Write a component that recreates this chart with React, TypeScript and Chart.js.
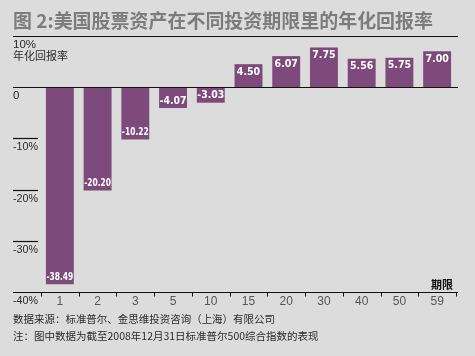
import React, { useEffect, useRef } from "react";
import { Chart, registerables } from "chart.js";

Chart.register(...registerables);

const TITLE = "图 2:美国股票资产在不同投资期限里的年化回报率";
const Y_LABEL = "年化回报率";
const X_LABEL = "期限";
const SOURCE = "数据来源：标准普尔、金思维投资咨询（上海）有限公司";
const NOTE = "注：图中数据为截至2008年12月31日标准普尔500综合指数的表现";

const categories = ["1", "2", "3", "5", "10", "15", "20", "30", "40", "50", "59"];
const returns = [-38.49, -20.2, -10.22, -4.07, -3.03, 4.5, 6.07, 7.75, 5.56, 5.75, 7.0];
const yTicks = [10, 0, -10, -20, -30, -40];
const yTickLabels = ["10%", "0", "-10%", "-20%", "-30%", "-40%"];

const BG = "#dcdcdc";
const BAR = "#7d4a7b";
const INK = "#2a2a2a";
const CJK = '"Noto Sans CJK SC", "Noto Sans", sans-serif';

const decorPlugin = {
  id: "decor",
  beforeDraw(chart: any) {
    const ctx = chart.ctx;
    ctx.save();
    ctx.fillStyle = BG;
    ctx.fillRect(0, 0, chart.width, chart.height);
    ctx.restore();
  },
  afterDatasetsDraw(chart: any) {
    const ctx = chart.ctx;
    const y = chart.scales.y;
    const x = chart.scales.x;
    const area = chart.chartArea;
    const left = 13;
    const right = 458;
    ctx.save();

    // title
    ctx.fillStyle = "#7c7c7c";
    ctx.font = `bold 19px ${CJK}`;
    ctx.textBaseline = "middle";
    ctx.textAlign = "left";
    ctx.fillText(TITLE, 13, 21, 420);

    // horizontal lines
    ctx.strokeStyle = "#111";
    ctx.lineWidth = 1.2;
    yTicks.forEach((v) => {
      const py = Math.round(y.getPixelForValue(v)) + 0.5;
      const full = v === 10 || v === 0 || v === -40;
      ctx.beginPath();
      ctx.moveTo(left, py);
      ctx.lineTo(full ? right : 38, py);
      ctx.stroke();
    });

    // y tick labels (below lines)
    ctx.fillStyle = INK;
    ctx.font = '11.5px "Liberation Sans", "DejaVu Sans", sans-serif';
    ctx.textBaseline = "top";
    ctx.textAlign = "left";
    yTicks.forEach((v, i) => {
      const py = y.getPixelForValue(v);
      ctx.fillText(yTickLabels[i], 13, py + 3, 25);
    });
    ctx.font = `11px ${CJK}`;
    ctx.fillText(Y_LABEL, 13, y.getPixelForValue(10) + 14);

    // x ticks
    const axisY = Math.round(y.getPixelForValue(-40)) + 0.5;
    ctx.strokeStyle = "#111";
    ctx.lineWidth = 1;
    const n = categories.length;
    const step = (area.right - area.left) / n;
    for (let i = 0; i <= n; i++) {
      const px = Math.round(area.left + i * step) + 0.5;
      ctx.beginPath();
      ctx.moveTo(px, axisY);
      ctx.lineTo(px, axisY + 4);
      ctx.stroke();
    }
    ctx.fillStyle = "#555";
    ctx.font = '12px "Liberation Sans", "DejaVu Sans", sans-serif';
    ctx.textAlign = "center";
    ctx.textBaseline = "top";
    categories.forEach((c, i) => {
      ctx.fillText(c, x.getPixelForValue(i), axisY + 3);
    });

    // x axis label
    ctx.fillStyle = "#111";
    ctx.font = `bold 11px ${CJK}`;
    ctx.textAlign = "right";
    ctx.textBaseline = "bottom";
    ctx.fillText(X_LABEL, 453, axisY - 2);

    // value labels
    const meta = chart.getDatasetMeta(0);
    ctx.fillStyle = "#ffffff";
    ctx.font = 'bold 10.5px "DejaVu Sans Condensed", "DejaVu Sans", sans-serif';
    ctx.textAlign = "center";
    ctx.textBaseline = "middle";
    meta.data.forEach((bar: any, i: number) => {
      const v = returns[i];
      const ly = v < 0 ? bar.y - 7 : bar.y + 8;
      ctx.fillText(v.toFixed(2), bar.x, ly, bar.width - 1);
    });

    // footer
    ctx.fillStyle = INK;
    ctx.font = `10.5px ${CJK}`;
    ctx.textAlign = "left";
    ctx.textBaseline = "middle";
    ctx.fillText(SOURCE, 13, 319, 262);
    ctx.fillText(NOTE, 13, 336, 309);

    ctx.restore();
  },
};

export default function App() {
  const ref = useRef<HTMLCanvasElement>(null);
  useEffect(() => {
    document.body.style.margin = "0";
    const chart = new Chart(ref.current!, {
      type: "bar",
      data: {
        labels: categories,
        datasets: [
          {
            data: returns,
            backgroundColor: BAR,
            borderWidth: 0,
            categoryPercentage: 1,
            barPercentage: 0.74,
          },
        ],
      },
      options: {
        responsive: false,
        animation: false,
        devicePixelRatio: 1,
        layout: { padding: { left: 41, right: 19, top: 36, bottom: 64 } },
        plugins: { legend: { display: false }, tooltip: { enabled: false } },
        scales: {
          x: { display: false, offset: true },
          y: { display: false, min: -40, max: 10 },
        },
      },
      plugins: [decorPlugin],
    });
    return () => chart.destroy();
  }, []);
  return (
    <div style={{ width: 475, height: 356, background: BG }}>
      <canvas ref={ref} width={475} height={356} />
    </div>
  );
}
